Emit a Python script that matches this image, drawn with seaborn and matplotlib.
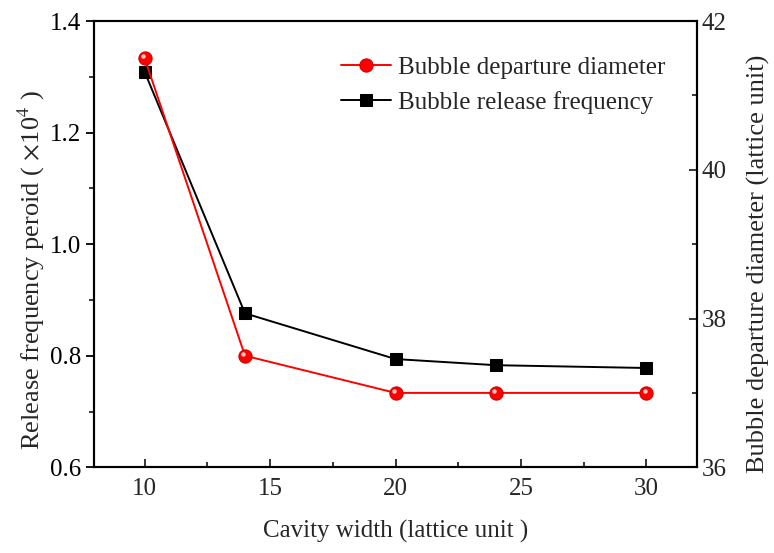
import matplotlib
matplotlib.use("Agg")
import matplotlib.pyplot as plt
import seaborn as sns
import pandas as pd
from matplotlib.ticker import MultipleLocator
from matplotlib.transforms import ScaledTranslation

cavity_width = [10, 14, 20, 24, 30]
release_period = [1.309, 0.876, 0.794, 0.783, 0.778]
departure_diameter = [41.5, 37.5, 37.0, 37.0, 37.0]

sns.set_theme(style="ticks")
plt.rcParams['font.family'] = ['Liberation Serif', 'DejaVu Serif']
plt.rcParams['mathtext.fontset'] = 'stix'
FS = 18

df = pd.DataFrame({"w": cavity_width, "p": release_period, "d": departure_diameter})

fig, ax = plt.subplots(figsize=(7.74, 5.53), dpi=100)
fig.subplots_adjust(left=0.122, right=0.9, top=0.962, bottom=0.155)
ax2 = ax.twinx()

sns.lineplot(data=df, x="w", y="p", ax=ax, color="black", marker="s", markersize=8.5,
             markeredgecolor="black", linewidth=1.4, label="Bubble release frequency", legend=False)
sns.lineplot(data=df, x="w", y="d", ax=ax2, color="#ff0000", marker="o", markersize=9.5,
             markeredgecolor="#d00000", markeredgewidth=0.8, linewidth=1.4,
             label="Bubble departure diameter", legend=False)
# specular highlight on the red spheres
hl = ax2.transData + ScaledTranslation(-1.2 / 72, 1.4 / 72, fig.dpi_scale_trans)
ax2.plot(df["w"], df["d"], linestyle="none", marker="o", markersize=3.2,
         color="#ffc8c8", markeredgewidth=0, transform=hl)

ax.set_xlim(8, 32)
ax.set_ylim(0.6, 1.4)
ax2.set_ylim(36, 42)
ax.xaxis.set_major_locator(MultipleLocator(5))
ax.xaxis.set_minor_locator(MultipleLocator(2.5))
ax.yaxis.set_major_locator(MultipleLocator(0.2))
ax.yaxis.set_minor_locator(MultipleLocator(0.1))
ax2.yaxis.set_major_locator(MultipleLocator(2))
ax2.yaxis.set_minor_locator(MultipleLocator(1))
ax.set_yticklabels([f"{v:.1f}" for v in ax.get_yticks()])

ax.tick_params(axis='y', which='major', direction='out', length=6, width=1.3, labelsize=FS, colors='black')
ax.tick_params(axis='y', which='minor', direction='out', length=3.5, width=1.3)
ax.tick_params(axis='x', which='major', direction='in', length=6, width=1.3, labelsize=FS, pad=8)
ax.tick_params(axis='x', which='minor', direction='in', length=3.5, width=1.3)
ax2.tick_params(axis='y', which='major', direction='in', length=6, width=1.3, labelsize=FS)
ax2.tick_params(axis='y', which='minor', direction='in', length=3.5, width=1.3)

for a in (ax, ax2):
    for s in a.spines.values():
        s.set_linewidth(1.5)
        s.set_color('black')

ax.set_xlabel("Cavity width (lattice unit )", fontsize=FS, labelpad=14)
ax.set_ylabel(r"Release frequency peroid ( $\times$10$^4$ )", fontsize=19)
ax2.set_ylabel("Bubble departure diameter (lattice unit)", fontsize=19)
ax.yaxis.set_label_coords(-0.079, 0.442)
ax2.yaxis.set_label_coords(1.083, 0.457)

h1, l1 = ax.get_legend_handles_labels()
h2, l2 = ax2.get_legend_handles_labels()
leg = ax2.legend(h2 + h1, l2 + l1, loc="upper right", frameon=False, fontsize=FS,
                 handlelength=2.0, handletextpad=0.25, labelspacing=0.5,
                 bbox_to_anchor=(0.985, 0.972))

fig.savefig("out.png", dpi=100)
